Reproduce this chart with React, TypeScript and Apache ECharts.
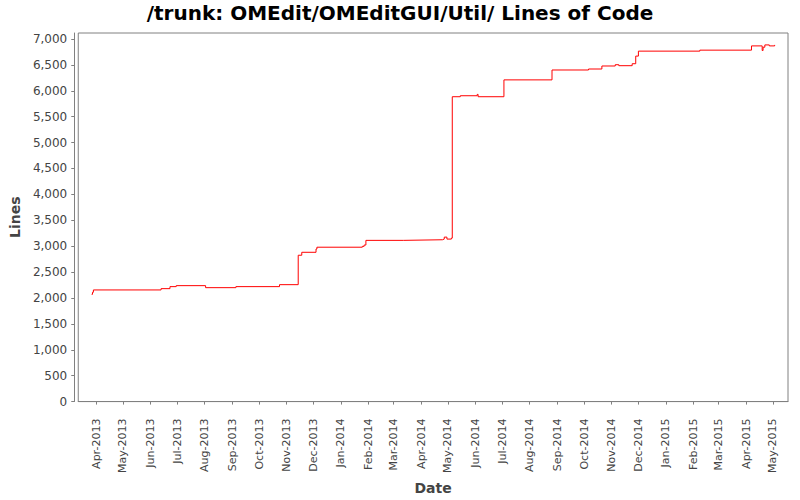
import React, { useEffect, useRef } from "react";
import * as echarts from "echarts";

const chartTitle = "/trunk: OMEdit/OMEditGUI/Util/ Lines of Code";
const xAxisName = "Date";
const yAxisName = "Lines";

const monthTicks = [
  "2013-04", "2013-05", "2013-06", "2013-07", "2013-08", "2013-09", "2013-10",
  "2013-11", "2013-12", "2014-01", "2014-02", "2014-03", "2014-04", "2014-05",
  "2014-06", "2014-07", "2014-08", "2014-09", "2014-10", "2014-11", "2014-12",
  "2015-01", "2015-02", "2015-03", "2015-04", "2015-05",
];
const monthNames = ["Jan", "Feb", "Mar", "Apr", "May", "Jun", "Jul", "Aug", "Sep", "Oct", "Nov", "Dec"];

const commitDates = [
  "2013-03-27", "2013-03-28", "2013-03-29", "2013-06-13", "2013-06-23", "2013-06-30",
  "2013-08-02", "2013-09-05", "2013-10-24", "2013-11-14", "2013-11-18", "2013-12-04",
  "2013-12-05", "2014-01-25", "2014-01-27", "2014-01-29", "2014-03-12", "2014-04-25",
  "2014-04-27", "2014-04-30", "2014-05-05", "2014-05-06", "2014-05-15", "2014-06-03",
  "2014-06-04", "2014-07-03", "2014-08-26", "2014-10-06", "2014-10-21", "2014-11-05",
  "2014-11-09", "2014-11-24", "2014-11-28", "2014-12-01", "2015-02-08", "2015-04-07",
  "2015-04-19", "2015-04-20", "2015-04-22", "2015-04-27", "2015-05-03",
];
const linesOfCode = [
  2070, 2110, 2155, 2180, 2219, 2238,
  2199, 2219, 2257, 2825, 2882, 2945,
  2980, 2997, 3022, 3112, 3124, 3137,
  3175, 3137, 3156, 5885, 5904, 5930,
  5885, 6210, 6401, 6420, 6478, 6503,
  6484, 6522, 6669, 6765, 6784, 6866,
  6777, 6841, 6885, 6866, 6885,
];

const axisStart = "2013-03-12";
const axisEnd = "2015-05-18";
const yMax = 7115;

function toTs(s: string): number {
  const parts = s.split("-").map(Number);
  return new Date(parts[0], parts[1] - 1, parts[2] || 1).getTime();
}

function fmtMonth(v: number): string {
  const d = new Date(v);
  return monthNames[d.getMonth()] + "-" + d.getFullYear();
}

export default function App() {
  const ref = useRef<HTMLDivElement>(null);
  useEffect(() => {
    if (!ref.current) return;
    const chart = echarts.init(ref.current, undefined, { renderer: "svg" });
    const font = "DejaVu Sans";
    const tickVals = monthTicks.map(toTs);
    chart.setOption({
      animation: false,
      backgroundColor: "#ffffff",
      title: {
        text: chartTitle,
        left: "center",
        top: 3,
        padding: 0,
        textStyle: { fontFamily: font, fontWeight: "bold", fontSize: 20, color: "#000000" },
      },
      grid: {
        left: 78,
        right: 12,
        top: 33,
        bottom: 95,
        show: true,
        borderColor: "#808080",
        borderWidth: 1,
        backgroundColor: "#ffffff",
        containLabel: false,
      },
      xAxis: {
        type: "value",
        min: toTs(axisStart),
        max: toTs(axisEnd),
        offset: 4,
        name: xAxisName,
        nameLocation: "middle",
        nameGap: 71,
        nameTextStyle: { fontFamily: font, fontWeight: "bold", fontSize: 14, color: "#444444" },
        axisLine: { show: true, lineStyle: { color: "#808080", width: 1 } },
        axisTick: { show: true, length: 3, lineStyle: { color: "#808080" }, customValues: tickVals },
        splitLine: { show: false },
        axisLabel: {
          customValues: tickVals,
          rotate: 90,
          margin: 13,
          fontFamily: font,
          fontSize: 11,
          color: "#444444",
          hideOverlap: false,
          formatter: (v: number) => fmtMonth(v),
        },
      },
      yAxis: {
        type: "value",
        min: 0,
        max: yMax,
        interval: 500,
        offset: 4,
        name: yAxisName,
        nameLocation: "middle",
        nameGap: 51,
        nameTextStyle: { fontFamily: font, fontWeight: "bold", fontSize: 14, color: "#444444" },
        axisLine: { show: true, lineStyle: { color: "#808080", width: 1 } },
        axisTick: { show: true, length: 3, lineStyle: { color: "#808080" } },
        splitLine: { show: false },
        axisLabel: {
          margin: 7,
          fontFamily: font,
          fontSize: 12,
          color: "#444444",
          showMaxLabel: false,
          formatter: (v: number) => (v > 7000 ? "" : v.toLocaleString("en-US")),
        },
      },
      series: [
        {
          type: "line",
          step: "end",
          showSymbol: false,
          symbol: "none",
          data: commitDates.map((d, i) => [toTs(d), linesOfCode[i]]),
          lineStyle: { color: "#ff0000", width: 1 },
          itemStyle: { color: "#ff0000" },
        },
      ],
    });
    return () => chart.dispose();
  }, []);
  return (
    <div style={{ position: "fixed", left: 0, top: 0, width: 800, height: 500, background: "#ffffff" }}>
      <div ref={ref} style={{ width: 800, height: 500 }} />
    </div>
  );
}
